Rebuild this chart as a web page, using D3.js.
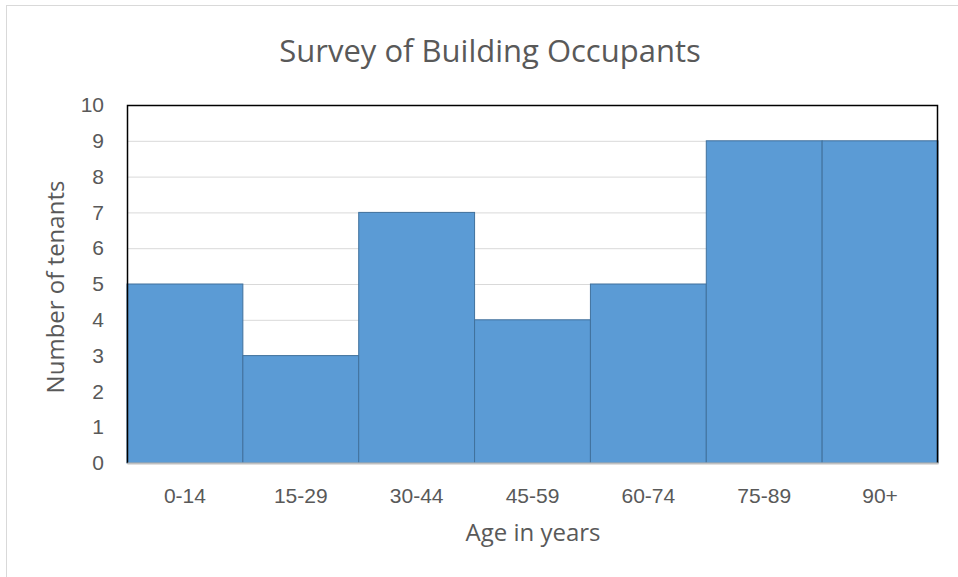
<!DOCTYPE html>
<html lang="en">
<head>
  <meta charset="UTF-8">
  <title>Survey of Building Occupants</title>
  <script src="https://d3js.org/d3.v7.min.js"></script>
  <style>
    body { margin: 0; background: #fff; }
    svg { display: block; font-family: "Open Sans", sans-serif; }
  </style>
</head>
<body>
<svg width="958" height="577"></svg>
<script>
  // data
  const ageGroups = ["0-14", "15-29", "30-44", "45-59", "60-74", "75-89", "90+"];
  const tenants = [5, 3, 7, 4, 5, 9, 9];
  const yTicks = [0, 1, 2, 3, 4, 5, 6, 7, 8, 9, 10];

  const svg = d3.select("svg");
  const margin = {top: 105, right: 20, bottom: 114, left: 127};
  const width = 958 - margin.left - margin.right;
  const height = 577 - margin.top - margin.bottom;

  // outer chart border
  svg.append("rect")
    .attr("x", 6.5).attr("y", 5.5)
    .attr("width", 1000).attr("height", 1000)
    .attr("fill", "none").attr("stroke", "#d9d9d9");

  const g = svg.append("g").attr("transform", `translate(${margin.left},${margin.top})`);

  const x = d3.scaleBand().domain(ageGroups).range([0, width]).padding(0);
  const y = d3.scaleLinear().domain([0, 10]).range([height, 0]);

  // gridlines
  g.selectAll("line.grid")
    .data(yTicks)
    .join("line")
      .attr("class", "grid")
      .attr("x1", 0).attr("x2", width)
      .attr("y1", d => y(d) + 0.5).attr("y2", d => y(d) + 0.5)
      .attr("stroke", "#d9d9d9");

  // bars
  g.selectAll("rect.bar")
    .data(ageGroups.map((a, i) => ({ age: a, n: tenants[i] })))
    .join("rect")
      .attr("class", "bar")
      .attr("x", d => x(d.age))
      .attr("y", d => y(d.n))
      .attr("width", x.bandwidth())
      .attr("height", d => height - y(d.n))
      .attr("fill", "#5b9bd5")
      .attr("stroke", "#41719c")
      .attr("stroke-width", 1);

  // plot frame
  g.append("path")
    .attr("d", `M0.5,${height} V0.5 H${width - 0.5} V${height}`)
    .attr("fill", "none")
    .attr("stroke", "#000")
    .attr("stroke-width", 1.5);

  // bottom axis
  const xAxis = g.append("g")
    .attr("transform", `translate(0,${height})`)
    .attr("font-family", "Open Sans, sans-serif")
    .call(d3.axisBottom(x).tickSize(0));
  xAxis.select(".domain").attr("stroke", "#bfbfbf").attr("stroke-width", 2);
  xAxis.selectAll("text")
    .attr("y", 40).attr("dy", null)
    .attr("fill", "#595959").style("font-size", "21px");

  // left axis
  const yAxis = g.append("g")
    .attr("font-family", "Open Sans, sans-serif")
    .call(d3.axisLeft(y).tickValues(yTicks).tickSize(0).tickPadding(23));
  yAxis.select(".domain").remove();
  yAxis.selectAll("text").attr("fill", "#595959").style("font-size", "21px");

  // title
  svg.append("text")
    .attr("x", 490).attr("y", 62)
    .attr("text-anchor", "middle")
    .attr("fill", "#595959")
    .style("font-size", "31px")
    .text("Survey of Building Occupants");

  // axis titles
  svg.append("text")
    .attr("x", 533).attr("y", 541)
    .attr("text-anchor", "middle")
    .attr("fill", "#595959")
    .style("font-size", "24px")
    .text("Age in years");

  svg.append("text")
    .attr("transform", `translate(64,287) rotate(-90)`)
    .attr("text-anchor", "middle")
    .attr("fill", "#595959")
    .style("font-size", "24px")
    .text("Number of tenants");
</script>
</body>
</html>
